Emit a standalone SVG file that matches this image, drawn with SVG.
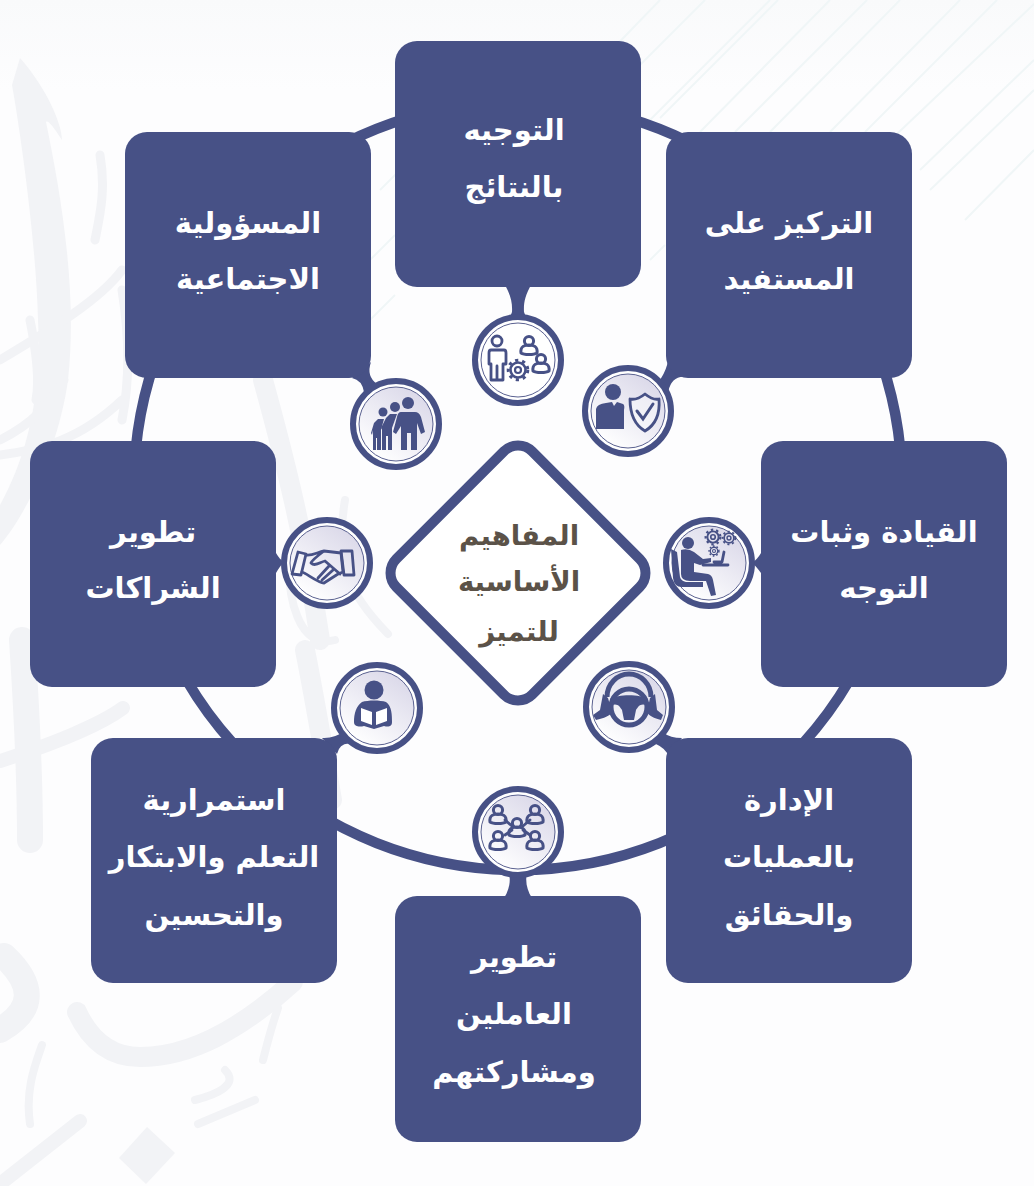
<svg xmlns="http://www.w3.org/2000/svg" xmlns:xlink="http://www.w3.org/1999/xlink" width="1034" height="1186" viewBox="0 0 1034 1186">
<style>
.box{fill:#475186}
.t{font-family:"DejaVu Sans","Noto Sans",sans-serif;font-weight:700;font-size:29px;fill:#fff;text-anchor:middle;direction:rtl}
.c{fill:#5b5248;font-size:27.5px}
.ring{fill:#fff;stroke:#475186;stroke-width:6}
.inner{fill:url(#disc);stroke:#5a6190;stroke-width:1}
.ic{fill:#475186}
.ol{fill:none;stroke:#475186;stroke-width:2.8;stroke-linecap:round;stroke-linejoin:round}
.cal{fill:none;stroke:#f2f3f6;stroke-linecap:round;stroke-linejoin:round}
.dl{fill:none;stroke:#f0f6f7;stroke-width:2}
</style>
<defs>
<linearGradient id="disc" x1="0.25" y1="0.9" x2="0.8" y2="0.1"><stop offset="0" stop-color="#fdfdfe"/><stop offset="1" stop-color="#dcdaea"/></linearGradient>
<linearGradient id="top" x1="0" y1="0" x2="0" y2="1"><stop offset="0" stop-color="#f9fafb"/><stop offset="1" stop-color="#fdfdfe"/></linearGradient>
<g id="pawn"><circle cx="0" cy="-5" r="4.6" fill="none" stroke="#475186" stroke-width="3"/><path d="M-8 7C-9 0-4-1 0-1S9 0 8 7C5 9-5 9-8 7Z" fill="none" stroke="#475186" stroke-width="3" stroke-linejoin="round"/></g>
<g id="gear"><circle r="7.5" fill="none" stroke="#475186" stroke-width="2.6"/><circle r="9.8" fill="none" stroke="#475186" stroke-width="3" stroke-dasharray="3.2 3.96"/><circle r="3" fill="none" stroke="#475186" stroke-width="2.2"/></g>
</defs>

<g id="background">
<rect width="1034" height="1186" fill="#fdfdfe"/>
<rect width="1034" height="90" fill="url(#top)"/>
<path class="dl" d="M600 62L660 0M625 80L705 0M640 130L770 0M660 118L778 0M700 132L830 0M735 132L867 0M770 132L900 0M830 132L960 0M865 132L997 0M880 150L1034 4M920 170L1034 60M930 190L1034 90M965 220L1034 150M380 190L470 100M370 320L395 295M650 260L665 245M370 260L395 235"/>
<path d="M20 58C48 90 62 125 62 140C52 125 48 120 46 122C60 190 78 290 68 380C60 440 30 510 0 545V505C25 460 42 400 38 320C36 240 20 130 12 85Z" fill="#f2f3f6"/>
<path class="cal" stroke-width="9" d="M100 155C106 190 100 215 95 240M0 360C50 330 100 300 122 270M122 290C130 340 130 380 122 420M0 440C40 420 50 400 64 380M122 400C80 440 40 450 0 455M30 320C36 350 40 380 36 400"/>
<path class="cal" stroke-width="20" d="M263 380C285 460 305 540 320 640M305 650C315 700 325 760 332 800"/>
<path class="cal" stroke-width="14" d="M0 761C50 745 100 725 123 708"/>
<path class="cal" stroke-width="26" d="M22 640C26 700 30 780 30 840M4 956C35 985 35 1010 0 1030"/>
<path class="cal" stroke-width="20" d="M77 1012C90 1040 110 1057 140 1057C190 1057 240 1030 293 982"/>
<path class="cal" stroke-width="8" d="M290 545C285 600 300 650 335 640M345 500C335 560 345 590 388 634M30 1124C25 1090 35 1065 42 1045M198 1124L255 1100M195 1100C215 1095 240 1085 225 1070M263 1060C268 1040 272 1025 278 1008"/>
<path class="cal" stroke-width="14" stroke-linecap="butt" d="M0 1184L80 1121"/>
<path d="M147 1127L175 1153L146 1184L119 1158Z" fill="#f2f3f6"/>
</g>

<g id="connectors">
<circle cx="518" cy="486" r="384" fill="none" stroke="#475186" stroke-width="10.5"/>
<g class="box">
<path d="M505 285C511 296 512.500 303 512 312C510 318 507 320 504 322H532C529 320 526 318 524 312C523.500 303 525 296 531 285Z"/>
<path d="M352 378Q362 380 364 392L377 384Q366 376 371 362Z"/>
<path d="M658 382Q664 376 668 362L686 377Q672 375 668 392Z"/>
<path d="M276 553C279 558 281 560 284 562C281 565 279 568 276 573Z"/>
<path d="M761 553C758 558 756 560 752 563C756 566 758 569 761 573Z"/>
<path d="M322 738Q334 739 346 730L353 744Q340 741 337 754Z"/>
<path d="M664 733Q670 738 682 738L668 756Q667 749 654 743Z"/>
<path d="M509 872C511 882 509 890 504 898H532C527 890 525 882 527 872Z"/>
</g>
</g>

<g id="node-top"><rect class="box" x="395" y="41" width="246" height="246" rx="22"/><text class="t" x="514" y="140">التوجيه</text><text class="t" x="514" y="197">بالنتائج</text></g>
<g id="node-top-left"><rect class="box" x="125" y="132" width="246" height="246" rx="22"/><text class="t" x="248" y="233">المسؤولية</text><text class="t" x="248" y="289">الاجتماعية</text></g>
<g id="node-top-right"><rect class="box" x="666" y="132" width="246" height="246" rx="22"/><text class="t" x="789" y="233">التركيز على</text><text class="t" x="789" y="289">المستفيد</text></g>
<g id="node-left"><rect class="box" x="30" y="441" width="246" height="246" rx="22"/><text class="t" x="153" y="542">تطوير</text><text class="t" x="153" y="598">الشراكات</text></g>
<g id="node-right"><rect class="box" x="761" y="441" width="246" height="246" rx="22"/><text class="t" x="884" y="542">القيادة وثبات</text><text class="t" x="884" y="598">التوجه</text></g>
<g id="node-bottom-left"><rect class="box" x="91" y="738" width="246" height="245" rx="22"/><text class="t" x="214" y="810">استمرارية</text><text class="t" x="214" y="867">التعلم والابتكار</text><text class="t" x="214" y="925">والتحسين</text></g>
<g id="node-bottom-right"><rect class="box" x="666" y="738" width="246" height="245" rx="22"/><text class="t" x="789" y="810">الإدارة</text><text class="t" x="789" y="867">بالعمليات</text><text class="t" x="789" y="925">والحقائق</text></g>
<g id="node-bottom"><rect class="box" x="395" y="896" width="246" height="246" rx="22"/><text class="t" x="514" y="967">تطوير</text><text class="t" x="514" y="1024">العاملين</text><text class="t" x="514" y="1082">ومشاركتهم</text></g>

<g id="node-center"><rect x="422" y="477" width="192" height="192" rx="20" transform="rotate(45 518 573)" fill="#fff" stroke="#475186" stroke-width="10"/>
<text class="t c" x="519" y="545">المفاهيم</text><text class="t c" x="519" y="591">الأساسية</text><text class="t c" x="519" y="641">للتميز</text></g>

<g id="icon-results"><circle class="ring" cx="518" cy="360" r="43"/><circle cx="518" cy="360" r="37" fill="#fff" stroke="#5a6190"/>
<circle class="ol" cx="497" cy="341" r="5"/><path class="ol" d="M491 350H504Q506 350 506 353V364H503V380H491V364H489V353Q489 350 491 350ZM497 366V380"/>
<use href="#pawn" x="529" y="346"/><use href="#pawn" x="541" y="364"/><use href="#gear" x="518" y="370"/></g>

<g id="icon-family"><circle class="ring" cx="396" cy="424" r="43"/><circle class="inner" cx="396" cy="424" r="37"/>
<circle class="ic" cx="408" cy="403" r="6"/><circle class="ic" cx="395" cy="407" r="5"/><circle class="ic" cx="383" cy="412" r="4.5"/>
<path class="ic" d="M401 412H415Q419 412 421 417L425 432L421 434L417 423V450H411V433H407V450H401V426L396 434L393 432L397 417Q398 412 401 412Z"/>
<path class="ic" d="M390 414H397L392 428V450H388V436H386V450H382V428L379 432L386 418Z"/>
<path class="ic" d="M378 419H384L381 430V450H377V438H376V450H373V430L372 435L371 433L374 423Z"/></g>

<g id="icon-shield"><circle class="ring" cx="628" cy="411" r="43"/><circle class="inner" cx="628" cy="411" r="37"/>
<circle class="ic" cx="613" cy="392" r="8"/>
<path class="ic" d="M596 409Q597 404 606 403L612 402L614 406L617 402L623 404Q625 405 624 410V429H596Z"/>
<path d="M645 394C650 398 655 400 659 399C660 412 657 424 645 431C633 424 630 412 630 399C635 400 640 398 645 394Z" fill="#fff" fill-opacity=".4" stroke="#475186" stroke-width="2.8" stroke-linejoin="round"/>
<path d="M637 411L643 419L653 404" fill="none" stroke="#475186" stroke-width="3" stroke-linecap="round"/></g>

<g id="icon-handshake"><circle class="ring" cx="327" cy="563" r="43"/><circle class="inner" cx="327" cy="563" r="37"/>
<path class="ol" d="M298 552L306 554L301 575L292 574ZM341 551L352 551L354 575L344 575Z"/>
<path class="ol" d="M306 555C312 556 318 552 324 551L341 553L343 572L338 574L324 583C318 583 306 573 302 572M324 551C316 557 312 560 311 563C315 567 320 562 325 561L340 574M333 570L322 580M329 566L318 578"/></g>

<g id="icon-laptop"><circle class="ring" cx="709" cy="563" r="43"/><circle class="inner" cx="709" cy="563" r="37"/>
<circle class="ic" cx="688" cy="543" r="6"/>
<path class="ic" d="M681 550Q688 548 694 552L703 559L711 558V562L700 565L694 563V572L708 574Q712 575 713 580L716 595L711 596L706 581H690Q681 581 681 574Z"/>
<path class="ic" d="M671 549L677 552L680 577Q681 581 686 582H703V587H682Q674 587 673 578Z"/>
<path class="ol" d="M703 565H728M714 562H722L724 552" stroke-width="1.500"/>
<g transform="translate(713 537) scale(.75)"><use href="#gear"/></g><g transform="translate(729 538) scale(.65)"><use href="#gear"/></g><g transform="translate(714 551) scale(.5)"><use href="#gear"/></g></g>

<g id="icon-book"><circle class="ring" cx="377" cy="708" r="43"/><circle class="inner" cx="377" cy="708" r="37"/>
<circle class="ic" cx="374" cy="690" r="9.500"/>
<path class="ic" d="M362 702C368 700 380 700 386 702C392 706 392 716 392 722C392 727 388 727 384 726L374 729L364 726C360 727 354 727 354 722C354 714 356 706 362 702Z"/>
<path d="M361 708L372 712V725L361 721ZM387 708L376 712V725L387 721Z" fill="#fff"/></g>

<g id="icon-wheel"><circle class="ring" cx="629" cy="707" r="43"/><circle class="inner" cx="629" cy="707" r="37"/>
<path d="M607 697A22 23 0 0 1 651 697" fill="none" stroke="#475186" stroke-width="5"/>
<circle cx="629" cy="707" r="18" fill="none" stroke="#475186" stroke-width="5"/>
<path class="ic" d="M610 699C618 694 640 694 648 699L646 705C640 703 638 707 636 710L634 720H624L622 710C620 707 618 703 612 705Z"/>
<path class="ic" d="M603 694L608 698L612 712C610 716 604 718 596 720L593 715L600 710ZM655 694L650 698L647 712C649 716 654 718 661 720L663 715L657 710Z"/></g>

<g id="icon-network"><circle class="ring" cx="518" cy="832" r="43"/><circle class="inner" cx="518" cy="832" r="37"/>
<path class="ol" d="M505 820L512 826M530 820L523 826M505 835L512 830M530 835L523 830" stroke-width="3"/>
<use href="#pawn" x="498" y="815"/><use href="#pawn" x="535" y="815"/><use href="#pawn" x="517" y="828"/><use href="#pawn" x="498" y="841"/><use href="#pawn" x="535" y="841"/></g>
</svg>
